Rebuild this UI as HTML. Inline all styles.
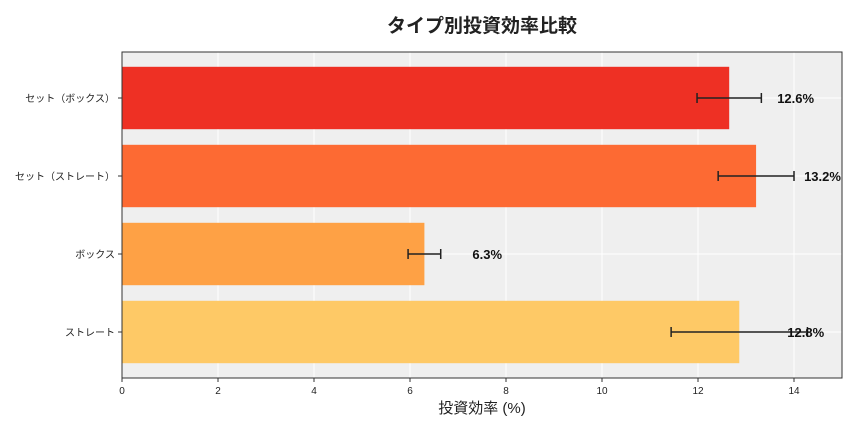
<!DOCTYPE html>
<html><head><meta charset="utf-8"><style>
body{margin:0;background:#fff;font-family:"Liberation Sans","Noto Sans CJK JP",sans-serif;}
svg text{font-family:"Liberation Sans","Noto Sans CJK JP",sans-serif;}
</style></head><body>
<svg id="c" width="864" height="432" xmlns="http://www.w3.org/2000/svg">
<rect x="0" y="0" width="864" height="432" fill="#fff"/>
<text x="482" y="32" text-anchor="middle" font-size="19" font-weight="bold" fill="#222">タイプ別投資効率比較</text>
<rect x="122" y="52" width="720" height="326" fill="#efefef"/>
<g id="grid"></g><g id="bars"></g>
<rect x="122" y="52" width="720" height="326" fill="none" stroke="#333" stroke-width="1"/>
<text x="482" y="413" text-anchor="middle" font-size="15" fill="#222">投資効率 (%)</text>
</svg>
<script>
const categories=["セット（ボックス）","セット（ストレート）","ボックス","ストレート"];
const values=[12.65,13.21,6.3,12.86];
const errors=[0.67,0.79,0.34,1.42];
const labels=["12.6%","13.2%","6.3%","12.8%"];
const ticks=[0,2,4,6,8,10,12,14];
const colors=["#ee3024","#fd6a33","#fea145","#fec966"];
const X0=122,X1=842,XMAX=15,Y0=52,BAND=78;
const sx=v=>X0+v/XMAX*(X1-X0);
const cy=i=>98+BAND*i;
const NS="http://www.w3.org/2000/svg";
function mk(t,a,p){const e=document.createElementNS(NS,t);for(const k in a)e.setAttribute(k,a[k]);p.appendChild(e);return e;}
const g=document.getElementById('grid'),b=document.getElementById('bars'),svg=document.getElementById('c');
ticks.forEach(t=>{
 const l=mk('line',{x1:sx(t),x2:sx(t),y1:Y0,y2:378,stroke:'#fff','stroke-width':1},g);
 
 
 const tk=mk('line',{x1:sx(t),x2:sx(t),y1:378,y2:382,stroke:'#333'},svg);
 
 
 const tx=mk('text',{x:sx(t),y:394,'text-anchor':'middle','font-size':10,fill:'#222'},svg);
 tx.textContent=t;
 
 
});
[0,1,2,3].forEach(i=>{
 const y=cy(i);
 const hl=mk('line',{x1:X0,x2:X1,y1:y,y2:y,stroke:'#fff'},g);
 
 
});
categories.forEach((c,i)=>{
 const y=cy(i),h=BAND*0.8;
 const r=mk('rect',{x:X0,y:y-h/2,width:sx(values[i])-X0,height:h,fill:colors[i]},b);
 
 
 const lo=sx(values[i]-errors[i]),hi=sx(values[i]+errors[i]);
 const e=mk('path',{d:`M${lo} ${y}H${hi}M${lo} ${y-5}V${y+5}M${hi} ${y-5}V${y+5}`,stroke:'#222','stroke-width':1.5,fill:'none'},b);
 
 
 const vt=mk('text',{x:sx(values[i]+1),y:y+5,'font-size':13,'font-weight':'bold',fill:'#111'},b);
 vt.textContent=labels[i];
 
 
 const yt=mk('line',{x1:118,x2:122,y1:y,y2:y,stroke:'#333'},svg);
 
 
 const ct=mk('text',{x:115,y:y+4,'text-anchor':'end','font-size':10,fill:'#222'},svg);
 ct.textContent=c;
 
 
});
</script>
</body></html>
